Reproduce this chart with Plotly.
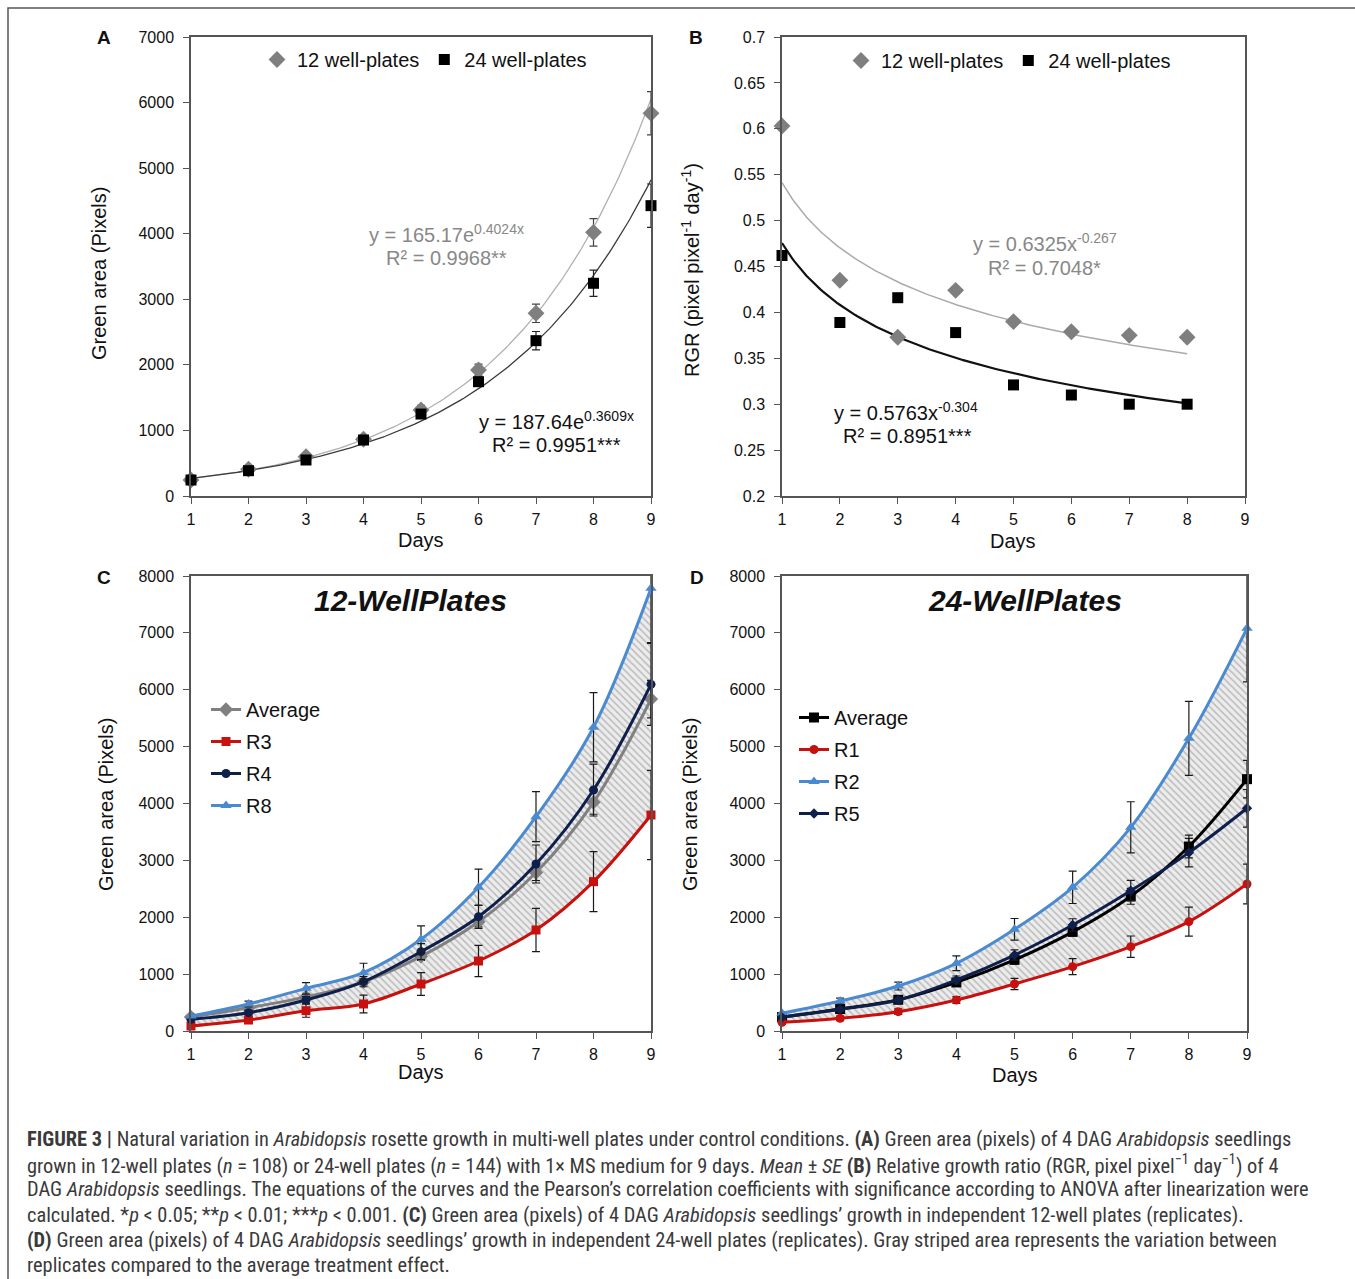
import numpy as np
import plotly.graph_objects as go

W, H = 1355, 1279

# ---------------- data ----------------
days = [1, 2, 3, 4, 5, 6, 7, 8, 9]
days_b = [1, 2, 3, 4, 5, 6, 7, 8]

# Panel A (mean +/- SE)
a_12 = [244, 407, 600, 865, 1312, 1922, 2786, 4021, 5836]
a_12_se = [25, 30, 40, 50, 70, 90, 140, 210, 330]
a_24 = [244, 386, 549, 854, 1250, 1743, 2369, 3244, 4428]
a_24_se = [20, 30, 40, 50, 60, 70, 140, 200, 330]

# Panel B (RGR)
b_12 = [0.603, 0.435, 0.373, 0.424, 0.390, 0.379, 0.375, 0.373]
b_24 = [0.462, 0.389, 0.416, 0.378, 0.321, 0.310, 0.300, 0.300]

# Panel C (12-well replicates)
c_r3 = [88, 193, 357, 475, 826, 1231, 1776, 2626, 3798]
c_r3_se = [40, 60, 115, 155, 200, 275, 380, 527, 785]
c_r4 = [205, 322, 545, 868, 1395, 2010, 2936, 4237, 6095]
c_r4_se = [20, 40, 60, 90, 140, 205, 334, 457, 720]
c_r8 = [264, 475, 750, 1026, 1612, 2527, 3768, 5340, 7783]
c_r8_se = [30, 50, 100, 165, 235, 320, 440, 608, 955]

# Panel D (24-well replicates)
d_r1 = [152, 223, 340, 545, 826, 1131, 1483, 1922, 2585]
d_r1_se = [30, 40, 50, 60, 100, 140, 187, 255, 350]
d_r2 = [311, 527, 791, 1190, 1788, 2527, 3581, 5146, 7080]
d_r2_se = [30, 50, 70, 130, 190, 285, 450, 650, 940]
d_r5 = [240, 381, 545, 897, 1336, 1864, 2467, 3136, 3916]
d_r5_se = [20, 30, 50, 70, 90, 110, 180, 250, 330]

b_ticks = [0.2, 0.25, 0.3, 0.35, 0.4, 0.45, 0.5, 0.55, 0.6, 0.65, 0.7]
b_ticktext = ["0.2", "0.25", "0.3", "0.35", "0.4", "0.45", "0.5", "0.55", "0.6", "0.65", "0.7"]

# ---------------- styles ----------------
FONT = "'Liberation Sans', Arial, sans-serif"
GRAY = "#7f7f7f"
RED = "#c8100f"
NAVY = "#0f1f4c"
BLUE = "#4a8ad0"
AX = "#555555"


def px_x(p):
    return p / W


def px_y(p):
    return 1 - p / H


fig = go.Figure()

# trendline helpers (least squares on the plotted points, like Excel)
xs_a = np.linspace(1, 9, 200)
xs_b = np.linspace(1, 8, 200)
ca12 = np.polyfit(days, np.log(a_12), 1)
ca24 = np.polyfit(days, np.log(a_24), 1)
cb12 = np.polyfit(np.log(days_b), np.log(b_12), 1)
cb24 = np.polyfit(np.log(days_b), np.log(b_24), 1)

# ---------- Panel A ----------
fig.add_trace(go.Scatter(x=xs_a, y=np.exp(ca12[1]) * np.exp(ca12[0] * xs_a), mode="lines",
                         line=dict(color="#b0b0b0", width=1.3), showlegend=False,
                         xaxis="x", yaxis="y", hoverinfo="skip"))
fig.add_trace(go.Scatter(x=xs_a, y=np.exp(ca24[1]) * np.exp(ca24[0] * xs_a), mode="lines",
                         line=dict(color="#3a3a3a", width=1.3), showlegend=False,
                         xaxis="x", yaxis="y", hoverinfo="skip"))
fig.add_trace(go.Scatter(x=days, y=a_12, mode="markers", name="12 well-plates",
                         marker=dict(symbol="diamond", size=13, color=GRAY),
                         error_y=dict(type="data", array=a_12_se, color="#444", thickness=1.2, width=4),
                         xaxis="x", yaxis="y", legend="legend", cliponaxis=False))
fig.add_trace(go.Scatter(x=days, y=a_24, mode="markers", name="24 well-plates",
                         marker=dict(symbol="square", size=11, color="#000"),
                         error_y=dict(type="data", array=a_24_se, color="#222", thickness=1.2, width=4),
                         xaxis="x", yaxis="y", legend="legend", cliponaxis=False))

# ---------- Panel B ----------
fig.add_trace(go.Scatter(x=xs_b, y=np.exp(cb12[1]) * xs_b ** cb12[0], mode="lines",
                         line=dict(color="#aaaaaa", width=1.5), showlegend=False,
                         xaxis="x2", yaxis="y2", hoverinfo="skip"))
fig.add_trace(go.Scatter(x=xs_b, y=np.exp(cb24[1]) * xs_b ** cb24[0], mode="lines",
                         line=dict(color="#111111", width=2.2), showlegend=False,
                         xaxis="x2", yaxis="y2", hoverinfo="skip"))
fig.add_trace(go.Scatter(x=days_b, y=b_12, mode="markers", name="12 well-plates",
                         marker=dict(symbol="diamond", size=13, color=GRAY),
                         xaxis="x2", yaxis="y2", legend="legend2", cliponaxis=False))
fig.add_trace(go.Scatter(x=days_b, y=b_24, mode="markers", name="24 well-plates",
                         marker=dict(symbol="square", size=11, color="#000"),
                         xaxis="x2", yaxis="y2", legend="legend2", cliponaxis=False))

PATTERN = dict(shape="\\", fgcolor="#8a8a8a", bgcolor="#ececec", size=5, solidity=0.3)
EB = dict(type="data", color="#1a1a1a", thickness=1.2, width=4)

# ---------- Panel C ----------
fig.add_trace(go.Scatter(x=days, y=c_r3, mode="lines", line=dict(width=0, shape="spline"),
                         showlegend=False, xaxis="x3", yaxis="y3", hoverinfo="skip"))
fig.add_trace(go.Scatter(x=days, y=c_r8, mode="lines", line=dict(width=0, shape="spline"),
                         fill="tonexty", fillcolor="rgba(0,0,0,0)", fillpattern=PATTERN,
                         showlegend=False, xaxis="x3", yaxis="y3", hoverinfo="skip"))
for name, ys, se, col, sym, sz in [
    ("Average", a_12, a_12_se, "#808080", "diamond", 11),
    ("R3", c_r3, c_r3_se, RED, "square", 9),
    ("R4", c_r4, c_r4_se, NAVY, "circle", 9),
    ("R8", c_r8, c_r8_se, BLUE, "triangle-up", 10),
]:
    fig.add_trace(go.Scatter(x=days, y=ys, mode="lines+markers", name=name, legendgroup="c" + name,
                             line=dict(color=col, width=3, shape="spline"),
                             marker=dict(symbol=sym, size=sz, color=col),
                             error_y=dict(EB, array=se),
                             xaxis="x3", yaxis="y3", legend="legend3", cliponaxis=False))

# ---------- Panel D ----------
fig.add_trace(go.Scatter(x=days, y=d_r1, mode="lines", line=dict(width=0, shape="spline"),
                         showlegend=False, xaxis="x4", yaxis="y4", hoverinfo="skip"))
fig.add_trace(go.Scatter(x=days, y=d_r2, mode="lines", line=dict(width=0, shape="spline"),
                         fill="tonexty", fillcolor="rgba(0,0,0,0)", fillpattern=PATTERN,
                         showlegend=False, xaxis="x4", yaxis="y4", hoverinfo="skip"))
for name, ys, se, col, sym, sz in [
    ("Average", a_24, a_24_se, "#000000", "square", 10),
    ("R1", d_r1, d_r1_se, RED, "circle", 9),
    ("R2", d_r2, d_r2_se, BLUE, "triangle-up", 10),
    ("R5", d_r5, d_r5_se, NAVY, "diamond", 8),
]:
    fig.add_trace(go.Scatter(x=days, y=ys, mode="lines+markers", name=name, legendgroup="d" + name,
                             line=dict(color=col, width=3, shape="spline"),
                             marker=dict(symbol=sym, size=sz, color=col),
                             error_y=dict(EB, array=se),
                             xaxis="x4", yaxis="y4", legend="legend4", cliponaxis=False))

# ---------------- axes ----------------
def xax(dom, anchor, rng):
    return dict(domain=dom, anchor=anchor, range=rng, tickmode="array", tickvals=days,
                showgrid=False, zeroline=False, showline=True, linecolor=AX, linewidth=1.5,
                mirror=True, ticks="outside", ticklen=6, tickcolor=AX, tickwidth=1.2,
                tickfont=dict(family=FONT, size=16, color="#111"), automargin=False,
                ticklabelstandoff=2)


def yax(dom, anchor, rng, **kw):
    d = dict(domain=dom, anchor=anchor, range=rng,
             showgrid=False, zeroline=False, showline=True, linecolor=AX, linewidth=1.5,
             mirror=True, ticks="outside", ticklen=6, tickcolor=AX, tickwidth=1.2,
             tickfont=dict(family=FONT, size=16, color="#111"), automargin=False,
             ticklabelstandoff=6)
    d.update(kw)
    return d


top_dom = [px_y(496), px_y(37)]
bot_dom = [px_y(1031), px_y(576)]

fig.update_layout(
    xaxis=xax([px_x(191), px_x(651)], "y", [1, 9]),
    yaxis=yax(top_dom, "x", [0, 7000], dtick=1000),
    xaxis2=xax([px_x(782), px_x(1245)], "y2", [1, 9]),
    yaxis2=yax(top_dom, "x2", [0.2, 0.7], tickmode="array", tickvals=b_ticks, ticktext=b_ticktext),
    xaxis3=xax([px_x(191), px_x(651)], "y3", [1, 9]),
    yaxis3=yax(bot_dom, "x3", [0, 8000], dtick=1000),
    xaxis4=xax([px_x(782), px_x(1247)], "y4", [1, 9]),
    yaxis4=yax(bot_dom, "x4", [0, 8000], dtick=1000),
)

LEGFONT = dict(family=FONT, size=20, color="#111")
fig.update_layout(
    legend=dict(orientation="h", x=px_x(257), y=px_y(40), xanchor="left", yanchor="top",
                font=LEGFONT, bgcolor="rgba(0,0,0,0)", traceorder="normal"),
    legend2=dict(orientation="h", x=px_x(841), y=px_y(41), xanchor="left", yanchor="top",
                 font=LEGFONT, bgcolor="rgba(0,0,0,0)", traceorder="normal"),
    legend3=dict(orientation="v", x=px_x(206), y=px_y(690), xanchor="left", yanchor="top",
                 font=LEGFONT, bgcolor="rgba(0,0,0,0)", traceorder="grouped", tracegroupgap=3),
    legend4=dict(orientation="v", x=px_x(794), y=px_y(698), xanchor="left", yanchor="top",
                 font=LEGFONT, bgcolor="rgba(0,0,0,0)", traceorder="grouped", tracegroupgap=3),
)

# ---------------- annotations ----------------
ann = []


def txt(x, y, text, size=20, color="#111", angle=0, xanchor="center", yanchor="middle", **kw):
    ann.append(dict(x=px_x(x), y=px_y(y), xref="paper", yref="paper", text=text, showarrow=False,
                    textangle=angle, xanchor=xanchor, yanchor=yanchor,
                    font=dict(family=kw.get("family", FONT), size=size, color=color)))


# panel letters
for lab, x, y in [("A", 104, 38), ("B", 696, 38), ("C", 104, 577), ("D", 697, 577)]:
    txt(x, y, f"<b>{lab}</b>", size=19)

# axis titles
txt(421, 540, "Days")
txt(1013, 541, "Days")
txt(421, 1072, "Days")
txt(1015, 1075, "Days")
txt(99, 274, "Green area (Pixels)", angle=-90)
txt(690, 270, "RGR (pixel pixel<sup>-1</sup> day<sup>-1</sup>)", angle=-90)
txt(106, 805, "Green area (Pixels)", angle=-90)
txt(690, 805, "Green area (Pixels)", angle=-90)

# equations
txt(447, 233, "y = 165.17e<sup>0.4024x</sup>", color="#888888")
txt(447, 258, "R² = 0.9968**", color="#888888")
txt(556, 420, "y = 187.64e<sup>0.3609x</sup>", color="#111")
txt(556, 445, "R² = 0.9951***", color="#111")
txt(1045, 243, "y = 0.6325x<sup>-0.267</sup>", color="#888888")
txt(1044, 268, "R² = 0.7048*", color="#888888")
txt(906, 411, "y = 0.5763x<sup>-0.304</sup>", color="#111")
txt(907, 436, "R² = 0.8951***", color="#111")

# panel titles
txt(410, 600, "<b><i>12-WellPlates</i></b>", size=30)
txt(1025, 600, "<b><i>24-WellPlates</i></b>", size=30)

# caption
CAP = "'Roboto Condensed', 'Liberation Sans Narrow', 'Arial Narrow', sans-serif"
caption = [
    "<b>FIGURE 3 |</b> Natural variation in <i>Arabidopsis</i> rosette growth in multi-well plates under control conditions. <b>(A)</b> Green area (pixels) of 4 DAG <i>Arabidopsis</i> seedlings",
    "grown in 12-well plates (<i>n</i> = 108) or 24-well plates (<i>n</i> = 144) with 1× MS medium for 9 days. <i>Mean</i> ± <i>SE</i> <b>(B)</b> Relative growth ratio (RGR, pixel pixel<sup>−1</sup> day<sup>−1</sup>) of 4",
    "DAG <i>Arabidopsis</i> seedlings. The equations of the curves and the Pearson’s correlation coefficients with significance according to ANOVA after linearization were",
    "calculated. *<i>p</i> &lt; 0.05; **<i>p</i> &lt; 0.01; ***<i>p</i> &lt; 0.001. <b>(C)</b> Green area (pixels) of 4 DAG <i>Arabidopsis</i> seedlings’ growth in independent 12-well plates (replicates).",
    "<b>(D)</b> Green area (pixels) of 4 DAG <i>Arabidopsis</i> seedlings’ growth in independent 24-well plates (replicates). Gray striped area represents the variation between",
    "replicates compared to the average treatment effect.",
]
for i, line in enumerate(caption):
    txt(25, 1139 + i * 25.2, line, size=20.4, color="#3a3a3a", xanchor="left", family=CAP)

fig.update_layout(annotations=ann)

# outer frame
fig.add_shape(type="rect", xref="paper", yref="paper", x0=px_x(8), y0=-0.02, x1=1.02, y1=px_y(8),
              line=dict(color="#555555", width=1.5))

fig.update_layout(width=W, height=H, autosize=False, margin=dict(l=0, r=0, t=0, b=0),
                  paper_bgcolor="white", plot_bgcolor="white",
                  font=dict(family=FONT, size=16, color="#111"))

fig.write_html("out.html")
